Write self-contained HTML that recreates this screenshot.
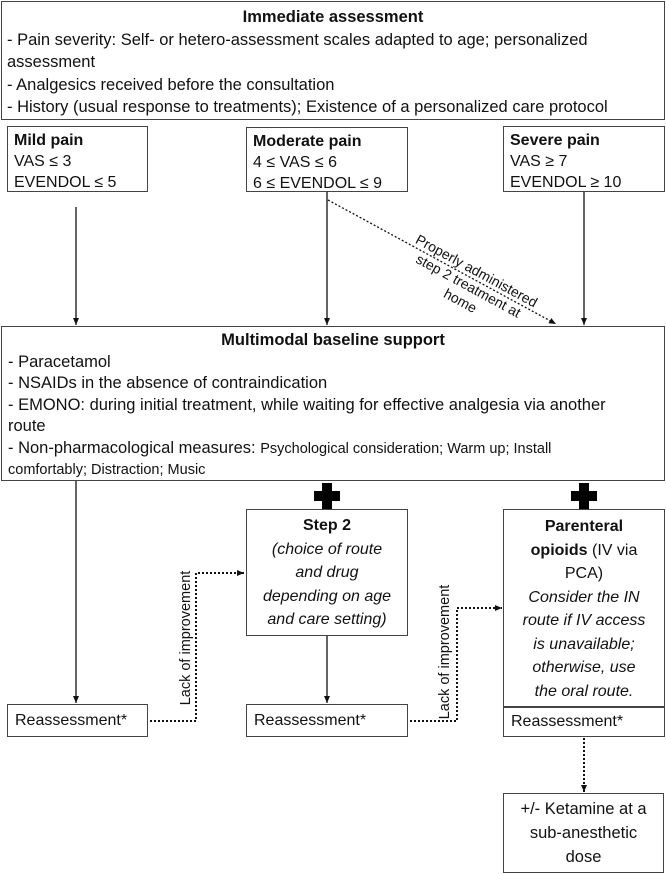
<!DOCTYPE html>
<html><head><meta charset="utf-8"><style>
body{margin:0;width:666px;height:874px;background:#fff;position:relative;overflow:hidden;font-family:"Liberation Sans",Arial,sans-serif;color:#111}
.b{position:absolute;border:1.3px solid #444;box-sizing:border-box;background:#fff;white-space:nowrap;overflow:hidden}
</style></head><body>
<svg width="666" height="874" style="position:absolute;left:0;top:0">
<defs><marker id="a" markerWidth="8" markerHeight="8" refX="7" refY="4" orient="auto" markerUnits="userSpaceOnUse"><path d="M0,1 L7,4 L0,7z" fill="#111"/></marker></defs>
<g stroke="#111" stroke-width="1.3" fill="none">
<line x1="76" y1="207" x2="76" y2="325" marker-end="url(#a)"/>
<line x1="327" y1="192" x2="327" y2="325" marker-end="url(#a)"/>
<line x1="584" y1="192" x2="584" y2="325" marker-end="url(#a)"/>
<line x1="76" y1="481" x2="76" y2="703" marker-end="url(#a)"/>
<line x1="327" y1="636" x2="327" y2="703" marker-end="url(#a)"/>
</g>
<g stroke="#111" stroke-width="2" stroke-dasharray="2,2" fill="none">
<line x1="328" y1="200" x2="556" y2="324" stroke-width="1.3" marker-end="url(#a)"/>
<polyline points="150,721 196,721 196,573 244,573" marker-end="url(#a)"/>
<polyline points="410,721 457,721 457,608 502,608" marker-end="url(#a)"/>
<line x1="584" y1="738" x2="584" y2="792" marker-end="url(#a)"/>
</g>
<path d="M322,483h10v8h8v10h-8v8h-10v-8h-8v-10h8z" fill="#000"/>
<path d="M579,483h10v8h8v10h-8v8h-10v-8h-8v-10h8z" fill="#000"/>
<text transform="translate(470,283) rotate(28.6)" font-family="Liberation Sans" font-size="14" text-anchor="middle" fill="#111"><tspan x="0" y="-9">Properly administered</tspan><tspan x="0" y="8">step 2 treatment at</tspan><tspan x="0" y="25">home</tspan></text>
<text transform="translate(190,638) rotate(-90)" font-size="14.5" text-anchor="middle" fill="#111">Lack of improvement</text>
<text transform="translate(449,652) rotate(-90)" font-size="14.5" text-anchor="middle" fill="#111">Lack of improvement</text>
</svg>
<div class="b" style="left:1px;top:1px;width:664px;height:119px;font-size:16.5px;line-height:22.5px;padding:4px 5px">
<div style="text-align:center;font-weight:bold">Immediate assessment</div>
- Pain severity: Self- or hetero-assessment scales adapted to age; personalized<br>assessment<br>- Analgesics received before the consultation<br>- History (usual response to treatments); Existence of a personalized care protocol</div>
<div class="b" style="left:7px;top:126px;width:141px;height:66px;font-size:16px;line-height:21px;padding:3px 6px"><b>Mild pain</b><br>VAS ≤ 3<br>EVENDOL ≤ 5</div>
<div class="b" style="left:246px;top:127px;width:162px;height:65px;font-size:16px;line-height:21px;padding:3px 6px"><b>Moderate pain</b><br>4 ≤ VAS ≤ 6<br>6 ≤ EVENDOL ≤ 9</div>
<div class="b" style="left:503px;top:126px;width:162px;height:66px;font-size:16px;line-height:21px;padding:3px 6px"><b>Severe pain</b><br>VAS ≥ 7<br>EVENDOL ≥ 10</div>
<div class="b" style="left:1px;top:326px;width:664px;height:155px;font-size:16.5px;line-height:21.5px;padding:3px 6px">
<div style="text-align:center;font-weight:bold">Multimodal baseline support</div>
- Paracetamol<br>- NSAIDs in the absence of contraindication<br>- EMONO: during initial treatment, while waiting for effective analgesia via another<br>route<br>- Non-pharmacological measures: <span style="font-size:14.5px;line-height:18px">Psychological consideration; Warm up; Install</span><br><span style="font-size:14.5px;line-height:18px">comfortably; Distraction; Music</span></div>
<div class="b" style="left:246px;top:509px;width:162px;height:127px;font-size:16px;line-height:23.5px;padding:4px 2px;text-align:center"><b>Step 2</b><br><i>(choice of route<br>and drug<br>depending on age<br>and care setting)</i></div>
<div class="b" style="left:503px;top:509px;width:162px;height:198px;font-size:16px;line-height:23.5px;padding:5px 2px;text-align:center"><b>Parenteral</b><br><b>opioids</b> (IV via<br>PCA)<br><i>Consider the IN<br>route if IV access<br>is unavailable;<br>otherwise, use<br>the oral route.</i></div>
<div class="b" style="left:7px;top:704px;width:141px;height:33px;font-size:16px;line-height:31px;padding-left:7px">Reassessment*</div>
<div class="b" style="left:246px;top:704px;width:162px;height:33px;font-size:16px;line-height:31px;padding-left:7px">Reassessment*</div>
<div class="b" style="left:503px;top:707px;width:162px;height:30px;font-size:16px;line-height:28px;padding-left:7px">Reassessment*</div>
<div class="b" style="left:503px;top:793px;width:161px;height:80px;font-size:16.5px;line-height:24px;padding-top:3px;text-align:center">+/- Ketamine at a<br>sub-anesthetic<br>dose</div>
</body></html>
